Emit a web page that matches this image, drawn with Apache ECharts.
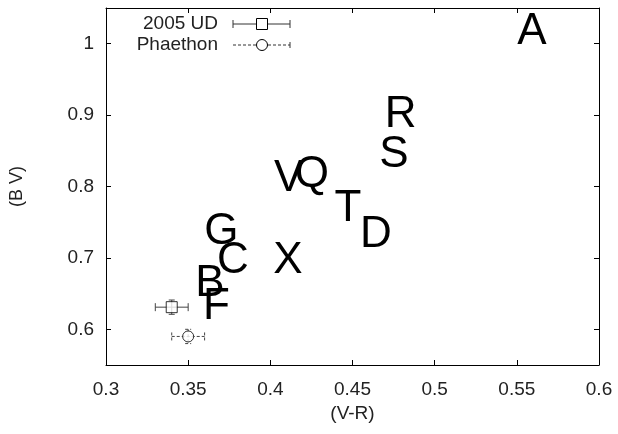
<!DOCTYPE html>
<html>
<head>
<meta charset="utf-8">
<script src="https://cdn.jsdelivr.net/npm/echarts@6/dist/echarts.min.js"></script>
<style>
  html, body { margin: 0; padding: 0; background: #fff; }
  #chart { width: 618px; height: 434px; }
</style>
</head>
<body>
<div id="chart"></div>
<script>
// letters (V-R, B-V)
const letters = ['A', 'R', 'S', 'Q', 'V', 'T', 'D', 'G', 'C', 'X', 'B', 'F']
const letterX = [0.558, 0.478, 0.474, 0.424, 0.410, 0.446, 0.463, 0.369, 0.376, 0.4095, 0.362, 0.366]
const letterY = [1.020, 0.903, 0.847, 0.819, 0.813, 0.771, 0.735, 0.739, 0.698, 0.698, 0.666, 0.634]

// measured objects: x, y, x error, y error
const udPoint = [0.34, 0.631, 0.01, 0.01]
const phaethonPoint = [0.35, 0.590, 0.01, 0.01]

const yTicks = [0.6, 0.7, 0.8, 0.9, 1]

const font = 'Liberation Sans, Arial, sans-serif'

let myChart = echarts.init(document.getElementById('chart'))

// error bar drawing
const errorBar = (dashed) => (params, api) => {
  let x = api.value(0), y = api.value(1), ex = api.value(2), ey = api.value(3)
  let l = api.coord([x - ex, y]), r = api.coord([x + ex, y])
  let t = api.coord([x, y + ey]), b = api.coord([x, y - ey])
  let style = {stroke: '#444', lineWidth: 1, lineDash: dashed ? [3, 2] : null}
  let seg = (x1, y1, x2, y2) => ({type: 'line', shape: {x1, y1, x2, y2}, style})
  return {
    type: 'group',
    children: [
      seg(l[0], l[1], r[0], r[1]),
      seg(l[0], l[1] - 4, l[0], l[1] + 4),
      seg(r[0], r[1] - 4, r[0], r[1] + 4),
      seg(t[0], t[1], b[0], b[1]),
      seg(t[0] - 3, t[1], t[0] + 3, t[1]),
      seg(b[0] - 3, b[1], b[0] + 3, b[1])
    ]
  }
}

const baseX = {
  type: 'value', min: 0.3, max: 0.6, interval: 0.05,
  axisLine: {show: true, onZero: false, lineStyle: {color: '#000', width: 1}},
  axisTick: {show: true, inside: true, length: 5, lineStyle: {color: '#000'}},
  splitLine: {show: false}
}
const baseY = {
  type: 'value', min: 0.55, max: 1.05,
  axisLine: {show: true, onZero: false, lineStyle: {color: '#000', width: 1}},
  axisTick: {show: true, inside: true, length: 5, customValues: yTicks, lineStyle: {color: '#000'}},
  splitLine: {show: false}
}

let option = {
  animation: false,
  backgroundColor: '#fff',
  grid: {left: 105, right: 19, top: 8, bottom: 69},
  xAxis: [
    Object.assign({}, baseX, {
      position: 'bottom',
      name: '(V-R)', nameLocation: 'middle', nameGap: 38,
      nameTextStyle: {color: '#222', fontSize: 19, fontFamily: font},
      axisLabel: {color: '#222', fontSize: 19, fontFamily: font, margin: 15,
        formatter: v => String(+v.toFixed(2))}
    }),
    Object.assign({}, baseX, {position: 'top', axisLabel: {show: false}})
  ],
  yAxis: [
    Object.assign({}, baseY, {
      position: 'left',
      name: '(B V)', nameLocation: 'middle', nameGap: 80,
      nameTextStyle: {color: '#222', fontSize: 18, fontFamily: font},
      axisLabel: {color: '#222', fontSize: 19, fontFamily: font, margin: 12,
        customValues: yTicks, formatter: v => String(+v.toFixed(2))}
    }),
    Object.assign({}, baseY, {position: 'right', axisLabel: {show: false}})
  ],
  graphic: [
    {type: 'text', right: 618 - 218, top: 14, style: {text: '2005 UD', fill: '#222', font: '19px ' + font}},
    {type: 'line', shape: {x1: 233, y1: 24, x2: 290, y2: 24}, style: {stroke: '#333', lineWidth: 1}},
    {type: 'line', shape: {x1: 233, y1: 20, x2: 233, y2: 28}, style: {stroke: '#333', lineWidth: 1}},
    {type: 'line', shape: {x1: 290, y1: 20, x2: 290, y2: 28}, style: {stroke: '#333', lineWidth: 1}},
    {type: 'rect', shape: {x: 256.5, y: 18.5, width: 11, height: 11}, style: {fill: '#fff', stroke: '#000', lineWidth: 1}},
    {type: 'text', right: 618 - 218, top: 35, style: {text: 'Phaethon', fill: '#222', font: '19px ' + font}},
    {type: 'line', shape: {x1: 233, y1: 45, x2: 290, y2: 45}, style: {stroke: '#333', lineWidth: 1, lineDash: [3, 2]}},
    {type: 'line', shape: {x1: 290, y1: 42, x2: 290, y2: 48}, style: {stroke: '#333', lineWidth: 1}},
    {type: 'circle', shape: {cx: 262, cy: 45, r: 5.5}, style: {fill: '#fff', stroke: '#000', lineWidth: 1}}
  ],
  series: [
    {
      type: 'scatter',
      symbol: 'circle',
      symbolSize: 1,
      itemStyle: {color: 'rgba(255,255,255,0)'},
      data: letters.map((s, i) => ({value: [letterX[i], letterY[i]], name: s})),
      label: {
        show: true, position: 'inside', offset: [2, 2], formatter: p => p.name,
        color: '#000', opacity: 1, textBorderWidth: 0,
        fontSize: 44, fontFamily: font, align: 'center', verticalAlign: 'middle'
      },
      emphasis: {disabled: true},
      z: 3
    },
    {type: 'custom', renderItem: errorBar(false), data: [udPoint], z: 4},
    {type: 'custom', renderItem: errorBar(true), data: [phaethonPoint], z: 4},
    {
      type: 'scatter', symbol: 'rect', symbolSize: 11,
      itemStyle: {color: '#fff', borderColor: '#000', borderWidth: 1},
      data: [[udPoint[0], udPoint[1]]], z: 5
    },
    {
      type: 'scatter', symbol: 'circle', symbolSize: 11,
      itemStyle: {color: '#fff', borderColor: '#000', borderWidth: 1},
      data: [[phaethonPoint[0], phaethonPoint[1]]], z: 5
    }
  ]
}
myChart.setOption(option)
</script>
</body>
</html>
